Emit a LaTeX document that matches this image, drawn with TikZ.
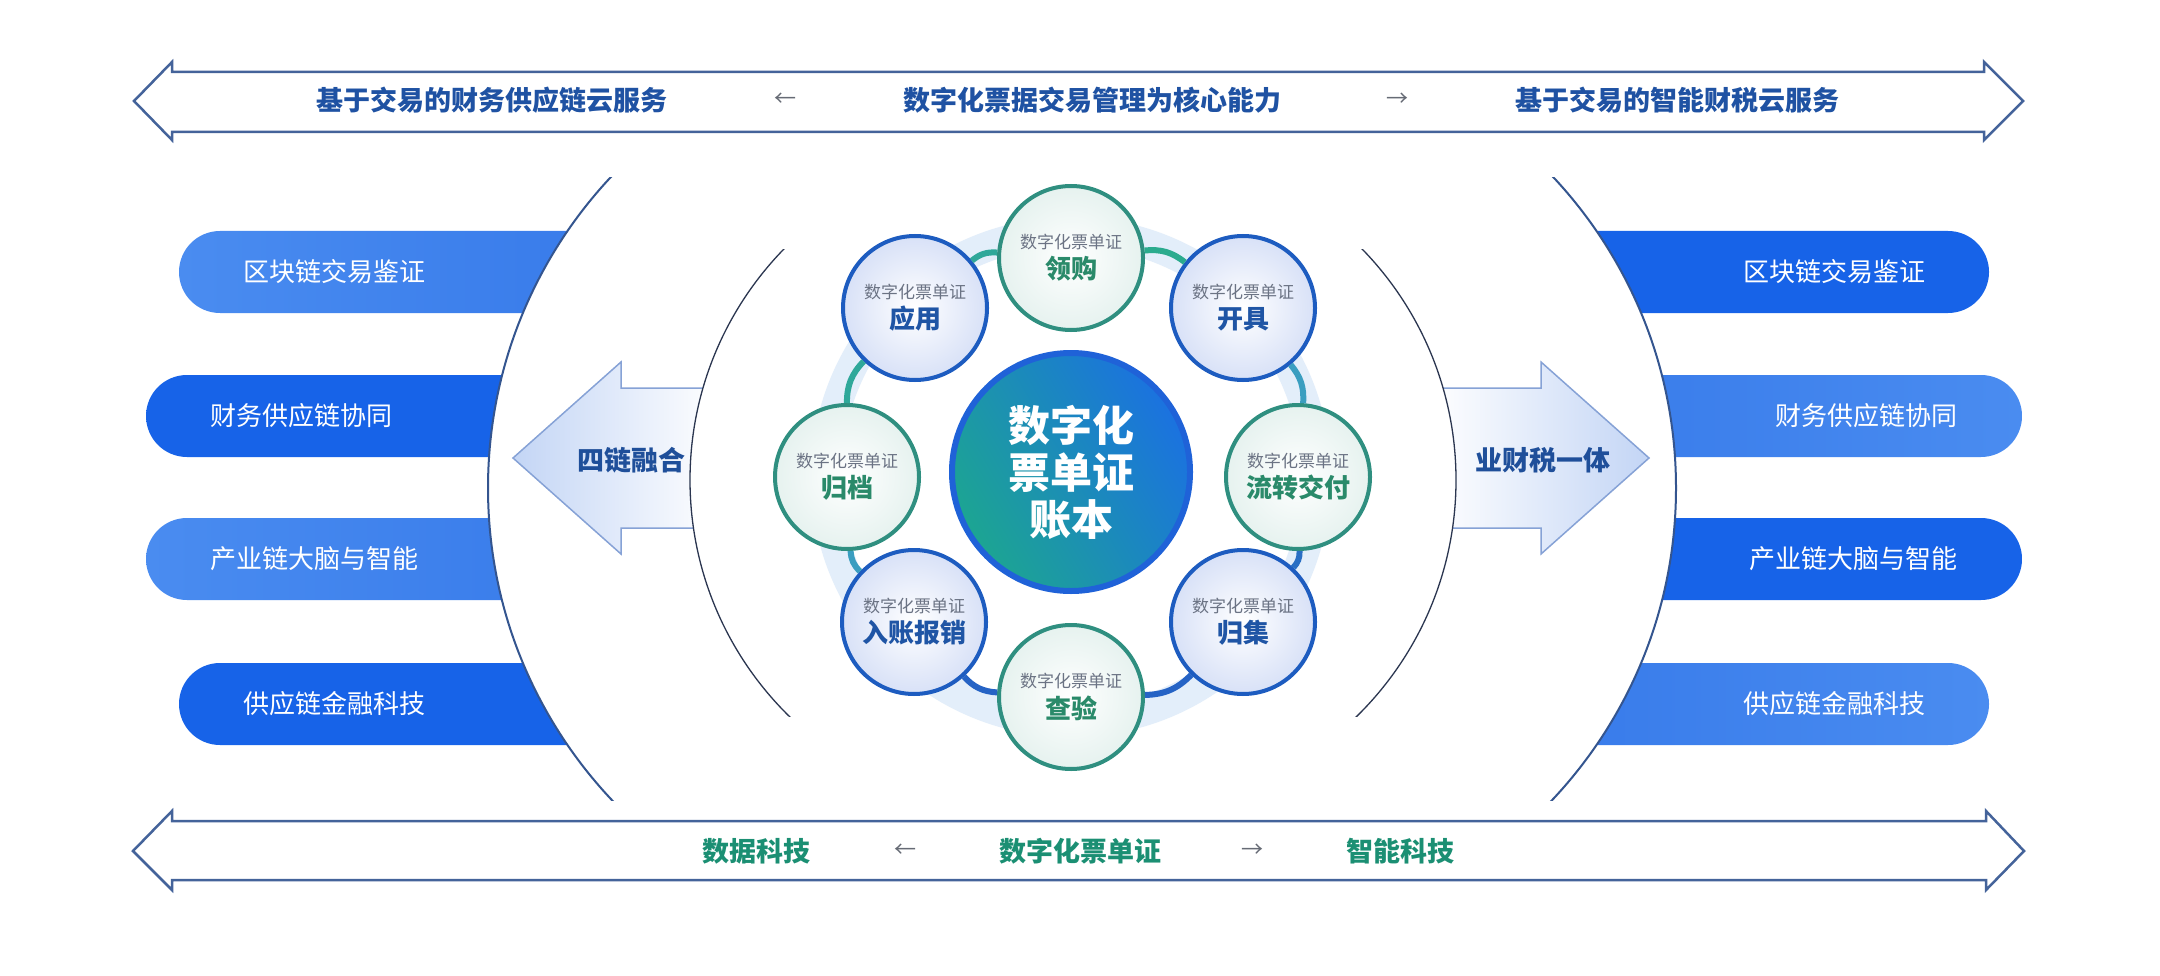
\documentclass[tikz,border=0pt]{standalone}
\usepackage{fontspec}
\setmainfont{Noto Sans CJK SC}
\usetikzlibrary{shadings}
\definecolor{topblue}{HTML}{1F52A3}
\definecolor{botgreen}{HTML}{1B8F73}
\definecolor{arrline}{HTML}{44639A}
\definecolor{pillLight}{HTML}{4A8CF0}
\definecolor{pillMid}{HTML}{2B6FE6}
\definecolor{pillStrong}{HTML}{1763E8}
\definecolor{arcline}{HTML}{34558F}
\definecolor{innerarc}{HTML}{2B3650}
\definecolor{bigarrfill}{HTML}{C3D5F5}
\definecolor{bigarrline}{HTML}{86A2D6}
\definecolor{bigarrtxt}{HTML}{1F4F9A}
\definecolor{glowc}{HTML}{E3EEFA}
\definecolor{satblue}{HTML}{1D5CC0}
\definecolor{satbluefill}{HTML}{D8E1F7}
\definecolor{satgreen}{HTML}{2F8F80}
\definecolor{satgreenfill}{HTML}{E6F2EF}
\definecolor{smallgray}{HTML}{6B7384}
\definecolor{bigblue}{HTML}{1F55A5}
\definecolor{biggreen}{HTML}{2A8A6A}
\definecolor{centerb}{HTML}{1F62D8}
\definecolor{centerteal}{HTML}{1CA592}
\definecolor{centerblue}{HTML}{1B72E0}
\definecolor{ringteal}{HTML}{2FA89A}
\definecolor{ringgreen}{HTML}{2BAB8E}
\definecolor{ringmid}{HTML}{3A9EC0}
\definecolor{ringblue}{HTML}{2563C5}
\definecolor{arrowgray}{HTML}{666B75}
\tikzset{
  outarrow/.style={draw=arrline, line width=2.5pt, fill=white, line join=miter},
  toptxt/.style={text=topblue, font=\bfseries\fontsize{27}{32}\selectfont, inner sep=0pt},
  bottxt/.style={text=botgreen, font=\bfseries\fontsize{27}{32}\selectfont, inner sep=0pt},
  arrtxt/.style={text=arrowgray, font=\fontsize{22}{26}\selectfont, inner sep=0pt},
  pilltxt/.style={text=white, font=\fontsize{26}{30}\selectfont, inner sep=0pt},
  pillshape/.style={rounded corners=41pt},
  outerarc/.style={draw=arcline, line width=2pt},
  innerarcst/.style={draw=innerarc, line width=1.3pt},
  bigarr/.style={draw=bigarrline, line width=1.5pt, line join=miter},
  bigarrlabel/.style={text=bigarrtxt, font=\bfseries\fontsize{27}{32}\selectfont, inner sep=0pt},
  sat/.style={circle, minimum size=144pt, inner sep=0pt, line width=4pt},
  satb/.style={sat, draw=satblue, inner color=white, outer color=satbluefill},
  satg/.style={sat, draw=satgreen, inner color=white, outer color=satgreenfill},
  smalltxt/.style={text=smallgray, font=\fontsize{17}{20}\selectfont, inner sep=0pt},
  bigtxtb/.style={text=bigblue, font=\bfseries\fontsize{26}{30}\selectfont, inner sep=0pt},
  bigtxtg/.style={text=biggreen, font=\bfseries\fontsize{26}{30}\selectfont, inner sep=0pt},
  centerc/.style={circle, minimum size=238pt, inner sep=0pt, line width=6pt, draw=centerb,
    left color=centerteal, right color=centerblue, shading angle=120,
    text=white, align=center, font=\bfseries\fontsize{42}{47}\selectfont},
  ringlink/.style={line width=6pt, bend left=22}
}
\begin{document}
\begin{tikzpicture}[x=1pt,y=-1pt]
\useasboundingbox[fill=white] (0,0) rectangle (2160,976);

% top and bottom outline arrows
\draw[outarrow] (134,101) -- (172,62) -- (172,72) -- (1984,72) -- (1984,62) -- (2023,101) -- (1984,140) -- (1984,132) -- (172,132) -- (172,140) -- cycle;
\draw[outarrow] (133,851) -- (172,811) -- (172,821) -- (1986,821) -- (1986,811) -- (2024,851) -- (1986,890) -- (1986,880) -- (172,880) -- (172,890) -- cycle;

\node[toptxt] (t1) at (492,100) {基于交易的财务供应链云服务};
\node[arrtxt] (t2) at (785,100) {←};
\node[toptxt] (t3) at (1092,100) {数字化票据交易管理为核心能力};
\node[arrtxt] (t4) at (1397,100) {→};
\node[toptxt] (t5) at (1677,100) {基于交易的智能财税云服务};

\node[bottxt] (b1) at (756,851) {数据科技};
\node[arrtxt] (b2) at (905,851) {←};
\node[bottxt] (b3) at (1080,851) {数字化票单证};
\node[arrtxt] (b4) at (1252,851) {→};
\node[bottxt] (b5) at (1400,851) {智能科技};

% left pills
\shade[pillshape, left color=pillLight, right color=pillMid] (179,231) rectangle (900,313);
\shade[pillshape, left color=pillStrong, right color=pillStrong] (146,375) rectangle (900,457);
\shade[pillshape, left color=pillLight, right color=pillMid] (146,518) rectangle (900,600);
\shade[pillshape, left color=pillStrong, right color=pillStrong] (179,663) rectangle (900,745);
% right pills
\shade[pillshape, left color=pillStrong, right color=pillStrong] (1260,231) rectangle (1989,313);
\shade[pillshape, left color=pillMid, right color=pillLight] (1260,375) rectangle (2022,457);
\shade[pillshape, left color=pillStrong, right color=pillStrong] (1260,518) rectangle (2022,600);
\shade[pillshape, left color=pillMid, right color=pillLight] (1260,663) rectangle (1989,745);

% outer white circles
\begin{scope}
  \clip (0,178) rectangle (1080,800);
  \fill[white] (943,488) circle[radius=455pt];
  \draw[outerarc] (943,488) circle[radius=455pt];
\end{scope}
\begin{scope}
  \clip (1080,178) rectangle (2160,800);
  \fill[white] (1221,488) circle[radius=455pt];
  \draw[outerarc] (1221,488) circle[radius=455pt];
\end{scope}

% pill texts
\node[pilltxt, anchor=west] (pl1) at (243,272) {区块链交易鉴证};
\node[pilltxt, anchor=west] (pl2) at (210,416) {财务供应链协同};
\node[pilltxt, anchor=west] (pl3) at (210,559) {产业链大脑与智能};
\node[pilltxt, anchor=west] (pl4) at (243,704) {供应链金融科技};
\node[pilltxt, anchor=east] (pr1) at (1926,272) {区块链交易鉴证};
\node[pilltxt, anchor=east] (pr2) at (1958,416) {财务供应链协同};
\node[pilltxt, anchor=east] (pr3) at (1958,559) {产业链大脑与智能};
\node[pilltxt, anchor=east] (pr4) at (1926,704) {供应链金融科技};

% big arrows
\path[bigarr, left color=bigarrfill, right color=white] (513,458) -- (621,362) -- (621,388) -- (720,388) -- (720,528) -- (621,528) -- (621,554) -- cycle;
\path[bigarr, left color=white, right color=bigarrfill] (1649,458) -- (1541,362) -- (1541,388) -- (1430,388) -- (1430,528) -- (1541,528) -- (1541,554) -- cycle;

% inner arcs
\begin{scope}
  \clip (0,250) rectangle (1000,716);
  \fill[white] (1021,480) circle[radius=331pt];
  \draw[innerarcst] (1021,480) circle[radius=331pt];
\end{scope}
\begin{scope}
  \clip (1150,250) rectangle (2160,716);
  \fill[white] (1125,480) circle[radius=331pt];
  \draw[innerarcst] (1125,480) circle[radius=331pt];
\end{scope}

\node[bigarrlabel] (la) at (631,460) {四链融合};
\node[bigarrlabel] (ra) at (1543,460) {业财税一体};

% glow ring
\draw[glowc, line width=30pt] (1071,477) circle[radius=245pt];

% center
\node[centerc] (c) at (1071,472) {数字化\\票单证\\账本};

% satellites
\node[satb] (s1) at (915,308) {};
\node[satg] (s2) at (1071,258) {};
\node[satb] (s3) at (1243,308) {};
\node[satg] (s4) at (1298,477) {};
\node[satb] (s5) at (1243,622) {};
\node[satg] (s6) at (1071,697) {};
\node[satb] (s7) at (914,622) {};
\node[satg] (s8) at (847,477) {};

\draw[ringlink, ringteal] (s1) to (s2);
\draw[ringlink, ringgreen] (s2) to (s3);
\draw[ringlink, ringmid] (s3) to (s4);
\draw[ringlink, ringblue!80!ringmid] (s4) to (s5);
\draw[ringlink, ringblue] (s5) to (s6);
\draw[ringlink, ringblue] (s6) to (s7);
\draw[ringlink, ringmid] (s7) to (s8);
\draw[ringlink, ringteal] (s8) to (s1);

\node[smalltxt] (s1a) at ([yshift=16pt]s1.center) {数字化票单证};
\node[bigtxtb] (s1b) at ([yshift=-11pt]s1.center) {应用};
\node[smalltxt] (s2a) at ([yshift=16pt]s2.center) {数字化票单证};
\node[bigtxtg] (s2b) at ([yshift=-11pt]s2.center) {领购};
\node[smalltxt] (s3a) at ([yshift=16pt]s3.center) {数字化票单证};
\node[bigtxtb] (s3b) at ([yshift=-11pt]s3.center) {开具};
\node[smalltxt] (s4a) at ([yshift=16pt]s4.center) {数字化票单证};
\node[bigtxtg] (s4b) at ([yshift=-11pt]s4.center) {流转交付};
\node[smalltxt] (s5a) at ([yshift=16pt]s5.center) {数字化票单证};
\node[bigtxtb] (s5b) at ([yshift=-11pt]s5.center) {归集};
\node[smalltxt] (s6a) at ([yshift=16pt]s6.center) {数字化票单证};
\node[bigtxtg] (s6b) at ([yshift=-11pt]s6.center) {查验};
\node[smalltxt] (s7a) at ([yshift=16pt]s7.center) {数字化票单证};
\node[bigtxtb] (s7b) at ([yshift=-11pt]s7.center) {入账报销};
\node[smalltxt] (s8a) at ([yshift=16pt]s8.center) {数字化票单证};
\node[bigtxtg] (s8b) at ([yshift=-11pt]s8.center) {归档};
\end{tikzpicture}
\end{document}
